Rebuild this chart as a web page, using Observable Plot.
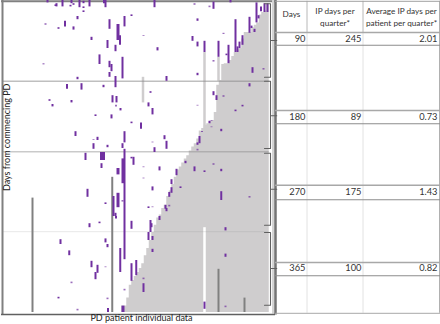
<!DOCTYPE html>
<html>
<head>
<meta charset="utf-8">
<style>html,body{margin:0;padding:0;background:#fff}svg{display:block}</style>
<script src="https://cdn.jsdelivr.net/npm/d3@7"></script>
<script src="https://cdn.jsdelivr.net/npm/@observablehq/plot@0.6"></script>
</head>
<body>
<script>
// [patient, first day, last day]
const episodesEarly = [
[18.8,0,3],[22.4,4,8],[22,5.5,7.5],[24.8,0,8],[28.4,0,4],[29.2,4,6],[28,6,8],[31.6,0,9],[33.2,1,4],[33.2,8,10],[33.2,13,15],[35.6,0,8],[41.4,0,4],[42,0,9],
[30.8,20,24],[52.4,18,20],[49.6,20,33],[43.6,24,36],[47,30,50],[47.8,44,56],[25.8,26,33],[23.2,34,36],[29.2,33,37],[36.4,46,50],[42.8,50,60],[46,56,64],[39.6,68,80],
[43.6,76,84],[44.4,80,89],[43.6,90,96],[48.8,71,98],[30.8,96,99],[46,95,109],[26.6,105,111],[32.4,104,112],[41.2,106,109],[19.6,124,126],[28.4,125,128],[44.8,119,128],[46.4,120,128],[20.8,130,133],
[61.6,0,9],[85.2,2,11],[92,0,3],[102.4,3,28],[103.2,19,23],[104.2,8,14],[105.6,4,15],[106.8,4,15],[78.8,23,26],[99.6,21,41],[100.4,32,35],[101.6,36,40],[94,24,65],[94.8,58,65],[95.6,52,60],[96.8,44,56],
[76.8,45,51],[78.8,52,58],[81.6,51,65],[87.2,51,71],[62.8,59,63],[91.2,56,79],[90.4,67,69],[78.8,91,94],[100.8,84,91],[66.4,95,101],[99.6,104,108],[60,114,116],[85.2,114,119],[86.4,119,125],[59.2,128,133],[96.8,131,133]
];
const episodesMiddle = [
[48,135,138],[38,143,145],[44.4,143,148],[52.4,152,154],[30,164,170],[49.6,164,178],[38.8,171,175],[42.8,181,184],[37.2,179,186],[48.8,179,185],[49.6,186,324],[34,191,200],[40.4,190,200],[41.2,190,200],[49,198,229],[40.4,204,210],[47,210,218],[53.2,196,206],[52.4,196,198],
[34.8,236,246],[47,241,259],[45.2,245,270],[42,253,255],[46,266,270],
[60.8,135,143],[56.2,153,161],[94,137,139],[83.6,151,154],[80.6,164,165],[88.3,161,164],[65.6,169,174],[79.6,170,179],[78.8,178,181],[66.4,176,186],[61.6,184,190],[74,201,204],[63.6,208,213],[77.6,208,214],[70.4,211,219],[81.6,213,215],[88.3,211,214],
[68.4,224,230],[60.8,233,238],[72,233,235],[68.4,234,241],[67.5,240,246],[88.3,239,250],[59.2,258,260],[66,256,261],[66.4,260,264]
];
const episodesLate = [
[35.6,279,284],[39.6,277,279],[46.2,270,273],[52.4,276,286],[24,299,305],[42,298,303],[42.8,305,309],[27.5,313,319],[47.9,310,340],[36.4,326,334],[38.8,331,341],[38,340,349],[52.4,329,351],[54.3,325,344],[23.2,371,373],[43,385,390],[49,382,390],
[60,275,290],[60.4,279,284],[63.6,270,275],[59.2,290,300],[60.8,295,300],[60.8,311,315],[57.2,354,365],[81.6,377,386],[90,284,288],[90,317,321]
];
const episodesFaint = [
[18,29,31],[17.2,79,80.5],[46.2,131,133],[77.6,4,6],[83.6,7,9],[89.2,41,42.5],[57.2,44,45],[85.2,75,77],[105.2,85,87],[89.2,119,121],[78.8,131,132],[37.2,174,175],[48.8,250,252],[84.4,150,151],[84.4,158,159],[60.8,177,178],[78.8,186,188],[85.2,204,206],[57.2,208,209],[57.2,222,223],[99.6,245,247],[60.8,258,259],[67.5,256,258],[42,333,334],[28.4,352,354],[49.6,361,363],[42.8,372,374],[30.8,386,388],[57.2,347,349],[90,382,384]
];
const widePatients = [47, 49, 40.4, 41.2];
const otherLong = [[12.8,247,390],[44.7,221,390],[87.2,336,390],[97.6,372,390]];
const otherPale = [[81.6,65,163],[87.2,71,101],[57,96,128]];
const gapBar = [[81.6,284,390]];
const followPatients = d3.range(49, 108);
const followStart = [382,382,372,356,350,345,340,335,329,319,310,300,290,281,272,268,260,256,245,238,230,221,212,208,203,198,194,188,183,179,173,163,160,156,154,151,150,140,106,100,80,79,79,75,70,65,62,60,48,40,40,40,34,31,28,18,15,13,5];
const cutDays = [101, 189, 289];
const lastDay = 390;
// [top, middle, bottom] of each quarter's brace
const braces = [[4,50,96],[101,144,185],[191,236,281],[290,335,381]];
const headers = ["Days","IP days per\nquarter*","Average IP days per\npatient per quarter*"];
const rowDays = [90,180,270,365];
const rowIP = [245,89,175,100];
const rowAvg = ["2.01","0.73","1.43","0.82"];
const rowCentre = [48,146,240,335];
const rowTop = [40,137.5,231,327.5];
const rowBottom = [56,154,249,344];

const follow = [...followPatients.map((p,i)=>({p:p-0.5,d:followStart[i]})),{p:107.5,d:followStart[followStart.length-1]}];
const tup = a => a.map(([p,a1,a2])=>({p,a1,a2}));
const early = tup([...episodesEarly,...episodesMiddle,...episodesLate]);
const isWide = d => widePatients.includes(d.p) && d.a2-d.a1>7;
const bracePts = braces.flatMap(([t,m,b],k)=>[[105.6,t],[108,t],[108,m],[110.5,m],[108,m],[108,b],[105.6,b]].map(([x,y])=>({x,y,k})));
const font = {fontFamily:"Lato",fill:"#333",fontSize:9.3};
const rows = rowDays.map((d,i)=>({d,ip:rowIP[i],avg:rowAvg[i],y:rowCentre[i]}));

const plot = Plot.plot({
  width:440,height:324,margin:0,
  x:{domain:[0,176],range:[0,440],axis:null},
  y:{domain:[0,405],range:[0,324],axis:null},
  marks:[
    Plot.areaY(follow,{x:"p",y1:lastDay,y2:"d",curve:"step-after",fill:"#cfcdce"}),
    Plot.ruleX(tup(otherPale),{x:"p",y1:"a1",y2:"a2",stroke:"#cfcdce",strokeWidth:2.5}),
    Plot.ruleX(tup(gapBar),{x:"p",y1:"a1",y2:"a2",stroke:"#ffffff",strokeWidth:2.5}),
    Plot.ruleX(tup(otherLong),{x:"p",y1:"a1",y2:"a2",stroke:"#808080",strokeWidth:2}),
    Plot.ruleY(cutDays.slice(0,1),{x1:1,x2:107.5,stroke:"#8a8a8a",strokeOpacity:0.55,strokeWidth:1.5}),
    Plot.ruleY(cutDays.slice(1,2),{x1:1,x2:107.5,stroke:"#8a8a8a",strokeOpacity:0.45,strokeWidth:1.5}),
    Plot.ruleY(cutDays.slice(2),{x1:1,x2:107.5,stroke:"#8a8a8a",strokeOpacity:0.5,strokeWidth:0.8,strokeDasharray:"1 1"}),
    Plot.ruleY([1],{x1:0.4,x2:110,stroke:"#808080",strokeWidth:2}),
    Plot.ruleX(early,{filter:d=>!isWide(d),x:"p",y1:"a1",y2:"a2",stroke:"#7030a0",strokeWidth:2}),
    Plot.ruleX(early,{filter:isWide,x:"p",y1:"a1",y2:"a2",stroke:"#7030a0",strokeWidth:3}),
    Plot.ruleX(tup(episodesFaint),{x:"p",y1:"a1",y2:"a2",stroke:"#7030a0",strokeOpacity:0.7,strokeWidth:2}),
    Plot.ruleX([109.1],{y1:0,y2:392,stroke:"#d4d4d4",strokeWidth:2.5}),
    Plot.ruleX([0.8],{y1:0,y2:393,stroke:"#808080",strokeWidth:2}),
    Plot.ruleX([110],{y1:0,y2:393,stroke:"#737373",strokeWidth:2.5}),
    Plot.ruleY([392.5],{x1:0.4,x2:110,stroke:"#606060",strokeWidth:1.5}),
    Plot.line(bracePts,{x:"x",y:"y",z:"k",stroke:"#606060",strokeWidth:1.1}),
    // table
    Plot.ruleX([122.6,145],{y1:40,y2:391,stroke:"#e2e2e2",strokeWidth:1}),
    Plot.ruleX([122.6,145],{y1:1,y2:40,stroke:"#b8b8b8",strokeWidth:1}),
    Plot.ruleX([175.6],{y1:1,y2:391,stroke:"#b0b0b0",strokeWidth:1}),
    Plot.ruleY([1],{x1:110,x2:176,stroke:"#a0a0a0",strokeWidth:1}),
    Plot.ruleY(rowTop,{x1:110,x2:176,stroke:"#a8a8a8",strokeWidth:1.6}),
    Plot.ruleY(rowBottom,{x1:110,x2:176,stroke:"#8c8c8c",strokeWidth:1.1}),
    Plot.ruleY([391],{x1:110,x2:176,stroke:"#a8a8a8",strokeWidth:1}),
    Plot.text(headers,{x:[116.4,133.8,160.4],y:[16,20,20],lineHeight:1.4,...font,fontSize:8.2}),
    Plot.text(rows,{x:122,y:"y",text:"d",textAnchor:"end",...font}),
    Plot.text(rows,{x:144.4,y:"y",text:"ip",textAnchor:"end",...font}),
    Plot.text(rows,{x:174.8,y:"y",text:"avg",textAnchor:"end",...font}),
    Plot.text(["Days from commencing PD"],{x:2.8,y:171,rotate:-90,fontSize:9,fontFamily:"Lato",fill:"#222"}),
    Plot.text(["PD patient individual data"],{x:56.4,y:397,fontSize:9,fontFamily:"Lato",fill:"#222"})
  ]
});
document.body.appendChild(plot);
</script>
</body>
</html>
